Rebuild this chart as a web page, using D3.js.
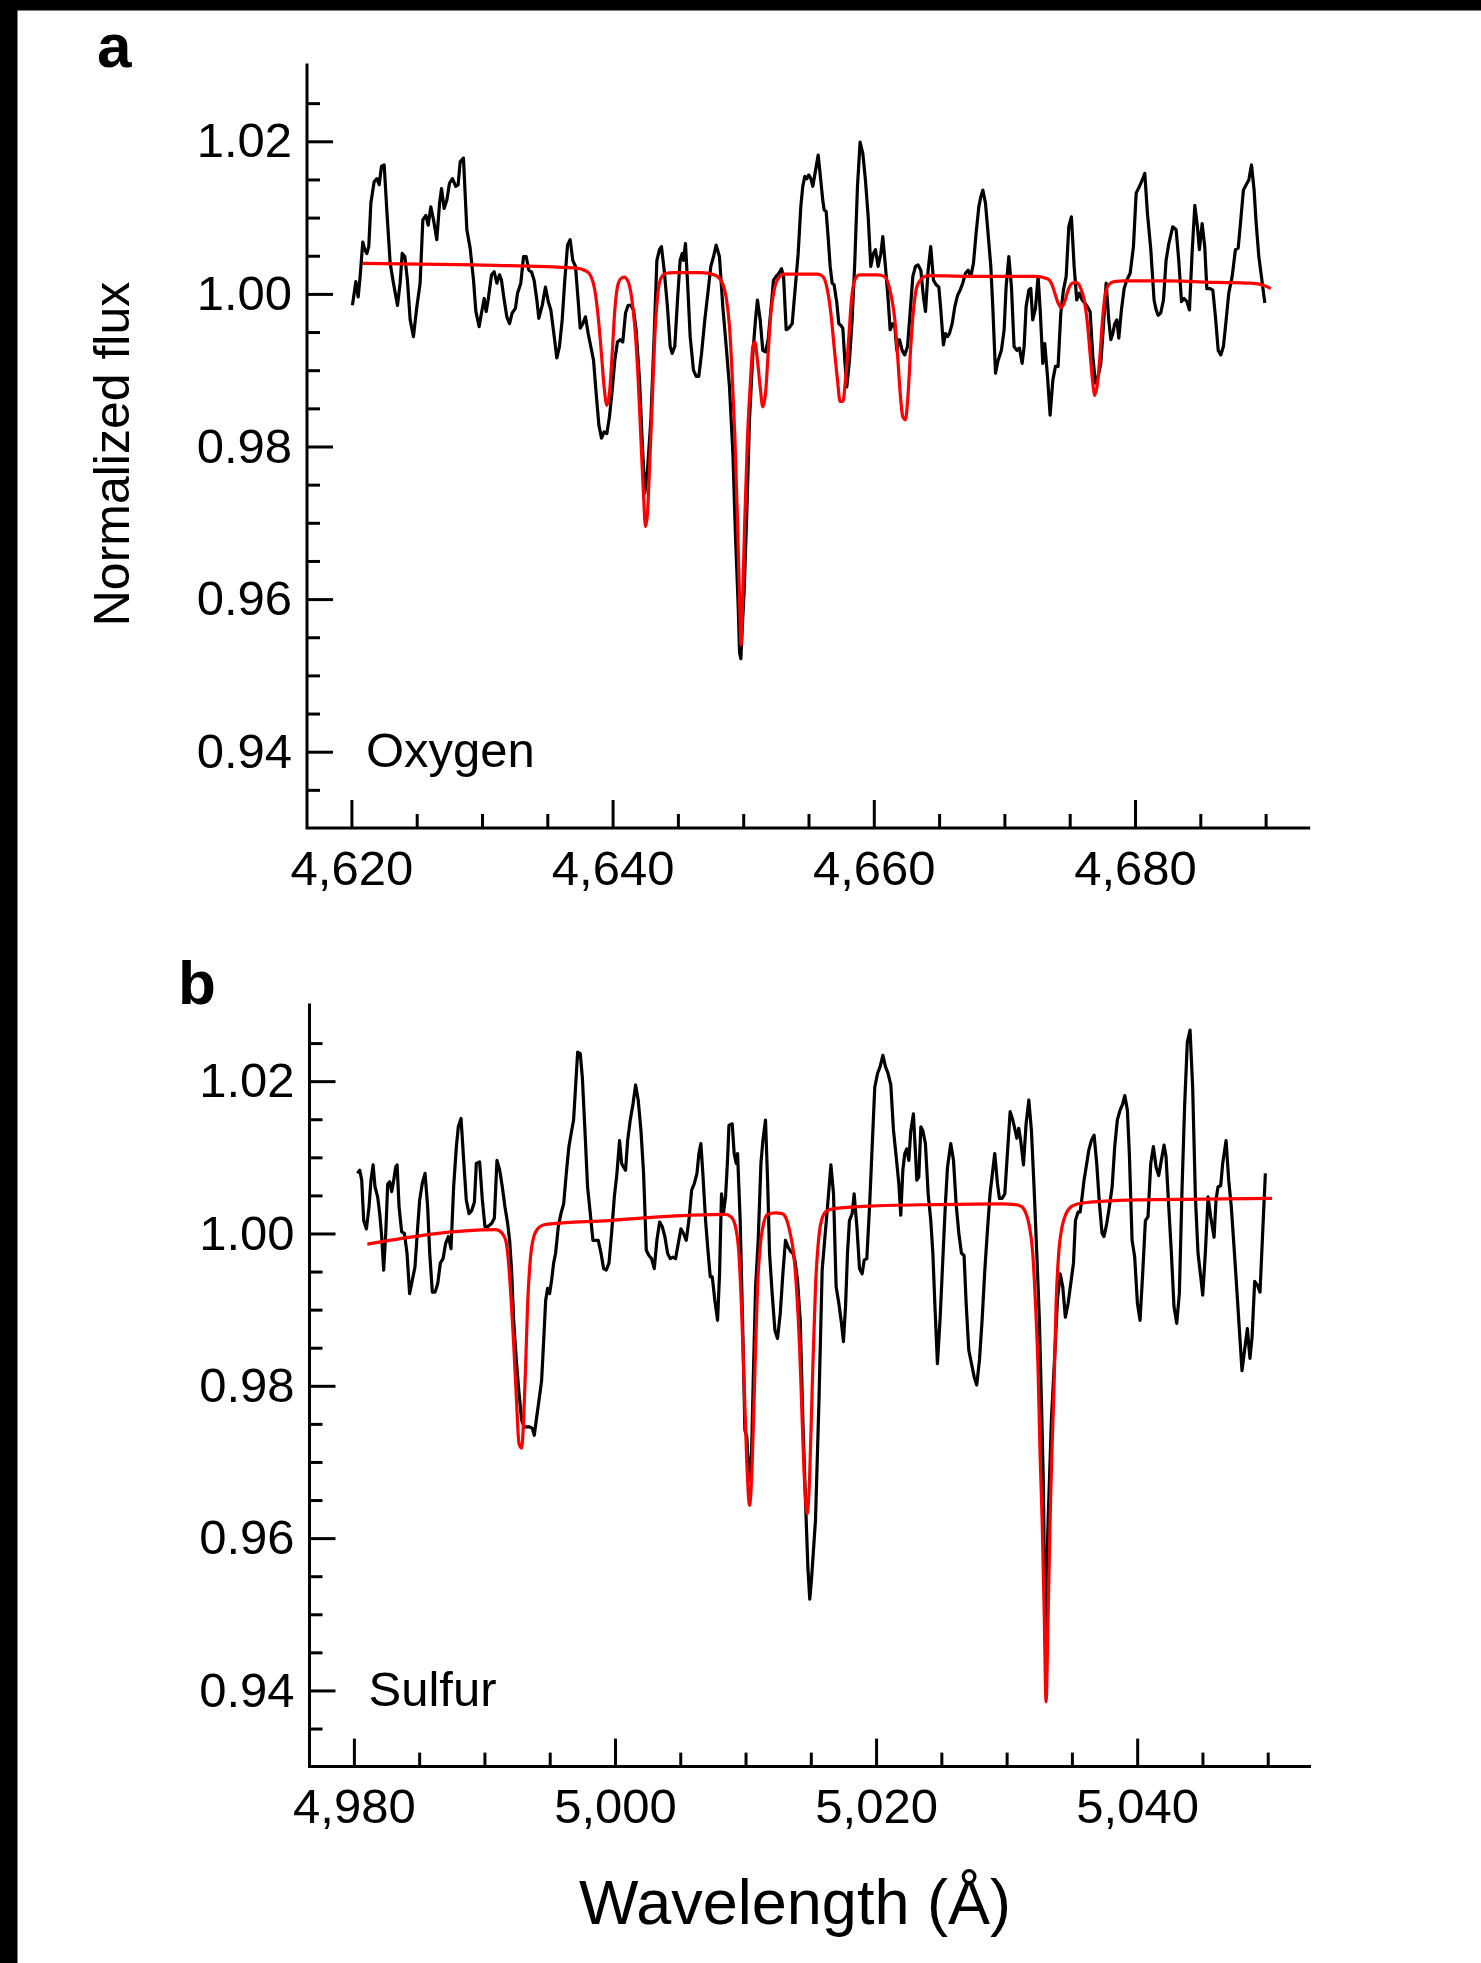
<!DOCTYPE html>
<html>
<head>
<meta charset="utf-8">
<script src="https://cdn.jsdelivr.net/npm/d3@7"></script>
<style>
  html, body { margin: 0; padding: 0; background: #fff; }
  svg { display: block; }
  text { font-family: "Liberation Sans", Arial, Helvetica, sans-serif; fill: #000; }
</style>
</head>
<body>
<svg id="chart" width="1481" height="1963"></svg>
<script>
// ---- Oxygen region: observed spectrum [wavelength (Å), normalized flux]
const oxygenObserved = [
[4620.08,0.9985],[4620.34,1.0016],[4620.52,0.9996],[4620.67,1.0023],[4620.87,1.0068],[4621.03,1.0058],[4621.18,1.0053],[4621.33,1.0062],[4621.49,1.0119],[4621.74,1.0147],[4621.95,1.0151],[4622.13,1.0143],[4622.30,1.0167],[4622.51,1.0169],[4622.71,1.0110],[4622.97,1.0040],[4623.22,1.0014],[4623.53,0.9985],[4623.73,1.0014],[4623.89,1.0053],[4624.09,1.0049],[4624.29,1.0018],[4624.50,0.9966],[4624.75,0.9944],[4625.01,0.9983],[4625.26,1.0014],[4625.47,1.0097],[4625.70,1.0103],[4625.88,1.0090],[4626.08,1.0114],[4626.29,1.0097],[4626.54,1.0071],[4626.75,1.0119],[4626.90,1.0138],[4627.10,1.0112],[4627.31,1.0123],[4627.51,1.0145],[4627.74,1.0151],[4627.99,1.0141],[4628.17,1.0143],[4628.33,1.0173],[4628.58,1.0178],[4628.84,1.0084],[4629.09,1.0060],[4629.35,1.0018],[4629.53,0.9977],[4629.78,0.9957],[4629.96,0.9975],[4630.17,0.9994],[4630.32,0.9977],[4630.47,0.9992],[4630.73,1.0025],[4630.93,1.0029],[4631.14,1.0014],[4631.34,1.0025],[4631.49,1.0018],[4631.70,0.9992],[4631.90,0.9970],[4632.11,0.9961],[4632.31,0.9975],[4632.56,0.9981],[4632.72,1.0001],[4632.97,1.0014],[4633.18,1.0049],[4633.38,1.0049],[4633.59,1.0031],[4633.79,1.0029],[4633.99,1.0018],[4634.20,0.9992],[4634.35,0.9968],[4634.61,0.9985],[4634.86,1.0009],[4635.07,0.9990],[4635.27,0.9979],[4635.53,0.9944],[4635.73,0.9916],[4635.93,0.9931],[4636.14,0.9966],[4636.34,1.0018],[4636.55,1.0064],[4636.75,1.0071],[4636.95,1.0044],[4637.16,1.0036],[4637.36,0.9992],[4637.52,0.9955],[4637.72,0.9961],[4637.92,0.9970],[4638.13,0.9948],[4638.33,0.9931],[4638.54,0.9913],[4638.74,0.9870],[4638.95,0.9828],[4639.15,0.9811],[4639.35,0.9819],[4639.56,0.9817],[4639.76,0.9839],[4639.97,0.9874],[4640.17,0.9913],[4640.37,0.9937],[4640.58,0.9940],[4640.78,0.9937],[4640.99,0.9975],[4641.19,0.9985],[4641.40,0.9985],[4641.60,0.9979],[4641.80,0.9953],[4642.06,0.9887],[4642.26,0.9809],[4642.47,0.9739],[4642.67,0.9769],[4642.93,0.9835],[4643.18,0.9944],[4643.39,1.0044],[4643.59,1.0058],[4643.74,1.0062],[4643.95,1.0031],[4644.20,0.9983],[4644.41,0.9931],[4644.56,0.9922],[4644.76,0.9931],[4644.97,0.9992],[4645.17,1.0044],[4645.33,1.0053],[4645.43,1.0044],[4645.58,1.0066],[4645.73,1.0018],[4645.94,0.9944],[4646.19,0.9900],[4646.40,0.9892],[4646.60,0.9892],[4646.81,0.9922],[4647.06,0.9966],[4647.32,1.0005],[4647.52,1.0036],[4647.73,1.0049],[4647.93,1.0064],[4648.18,1.0049],[4648.44,0.9983],[4648.70,0.9931],[4648.95,0.9878],[4649.21,0.9791],[4649.41,0.9682],[4649.61,0.9594],[4649.72,0.9530],[4649.82,0.9522],[4649.95,0.9570],[4650.07,0.9610],[4650.28,0.9715],[4650.48,0.9835],[4650.74,0.9922],[4650.94,0.9966],[4651.09,0.9992],[4651.30,0.9966],[4651.50,0.9926],[4651.71,0.9924],[4651.91,0.9940],[4652.12,0.9979],[4652.32,1.0018],[4652.52,1.0023],[4652.73,1.0027],[4652.93,1.0033],[4653.09,1.0023],[4653.29,0.9953],[4653.49,0.9955],[4653.75,0.9961],[4653.95,1.0001],[4654.21,1.0053],[4654.41,1.0114],
[4654.56,1.0141],[4654.72,1.0154],[4654.87,1.0151],[4655.02,1.0156],[4655.18,1.0151],[4655.33,1.0141],[4655.48,1.0156],[4655.74,1.0182],[4655.94,1.0149],[4656.09,1.0123],[4656.20,1.0110],[4656.35,1.0108],[4656.50,1.0075],[4656.66,1.0036],[4656.81,1.0014],[4656.96,1.0012],[4657.17,0.9988],[4657.32,0.9961],[4657.47,0.9959],[4657.63,0.9955],[4657.78,0.9913],[4657.93,0.9878],[4658.14,0.9913],[4658.34,0.9966],[4658.54,1.0040],[4658.75,1.0141],[4658.95,1.0199],[4659.16,1.0184],[4659.36,1.0149],[4659.57,1.0101],[4659.77,1.0036],[4659.97,1.0053],[4660.13,1.0058],[4660.33,1.0036],[4660.54,1.0053],[4660.69,1.0075],[4660.89,1.0036],[4661.10,0.9992],[4661.25,0.9953],[4661.45,0.9961],[4661.61,0.9957],[4661.76,0.9926],[4661.97,0.9940],[4662.17,0.9926],[4662.37,0.9920],[4662.58,0.9931],[4662.78,0.9975],[4662.99,1.0023],[4663.19,1.0036],[4663.39,1.0038],[4663.60,1.0031],[4663.80,0.9996],[4663.96,0.9977],[4664.16,1.0031],[4664.36,1.0062],[4664.57,1.0018],[4664.77,1.0012],[4664.98,1.0009],[4665.13,0.9979],[4665.33,0.9933],[4665.49,0.9948],[4665.64,0.9944],[4665.79,0.9948],[4666.00,0.9961],[4666.20,0.9983],[4666.41,0.9998],[4666.61,1.0005],[4666.81,1.0014],[4667.02,1.0027],[4667.22,1.0031],[4667.43,1.0023],[4667.63,1.0040],[4667.83,1.0079],[4668.04,1.0114],[4668.19,1.0127],[4668.35,1.0136],[4668.55,1.0119],[4668.75,1.0079],[4668.96,1.0036],[4669.11,0.9983],[4669.32,0.9896],[4669.52,0.9913],[4669.77,0.9926],[4669.98,0.9953],[4670.13,1.0009],[4670.34,1.0049],[4670.54,1.0009],[4670.74,0.9931],[4670.95,0.9926],[4671.15,0.9929],[4671.36,0.9909],[4671.51,0.9931],[4671.66,0.9983],[4671.87,1.0005],[4672.02,1.0007],[4672.17,0.9966],[4672.38,0.9981],[4672.58,1.0023],[4672.74,0.9979],[4672.94,0.9909],[4673.09,0.9935],[4673.30,0.9892],[4673.50,0.9841],[4673.71,0.9887],[4673.91,0.9905],[4674.11,0.9905],[4674.32,0.9975],[4674.52,1.0005],[4674.73,1.0023],[4674.93,1.0088],[4675.13,1.0101],[4675.34,1.0036],[4675.54,0.9992],[4675.75,1.0001],[4675.95,0.9992],[4676.16,0.9988],[4676.36,0.9983],[4676.56,0.9977],[4676.77,0.9918],[4676.97,0.9883],[4677.18,0.9892],[4677.38,0.9909],[4677.58,0.9957],[4677.79,1.0014],[4677.99,0.9966],[4678.15,0.9940],[4678.30,0.9948],[4678.45,0.9961],[4678.61,0.9966],[4678.76,0.9942],[4678.96,0.9979],[4679.17,1.0007],[4679.37,1.0018],[4679.63,1.0027],[4679.88,1.0062],[4680.09,1.0132],[4680.34,1.0141],[4680.55,1.0149],[4680.75,1.0158],[4680.95,1.0106],[4681.21,1.0058],[4681.46,0.9992],[4681.62,0.9979],[4681.77,0.9972],[4681.97,0.9975],[4682.18,0.9992],[4682.38,1.0044],[4682.59,1.0066],[4682.89,1.0088],[4683.15,1.0084],[4683.35,1.0044],[4683.56,0.9990],[4683.76,0.9994],[4683.97,0.9990],[4684.17,0.9979],[4684.37,1.0053],[4684.58,1.0116],[4684.78,1.0088],[4684.93,1.0058],[4685.14,1.0092],[4685.34,1.0062],[4685.50,1.0007],[4685.75,1.0007],[4685.96,1.0005],[4686.16,0.9970],[4686.37,0.9926],[4686.57,0.9920],[4686.77,0.9931],[4686.98,0.9966],[4687.18,1.0001],[4687.44,1.0023],[4687.69,1.0058],[4687.90,1.0060],[4688.10,1.0097],[4688.30,1.0136],[4688.51,1.0143],[4688.71,1.0149],[4688.92,1.0169],[4689.12,1.0136],[4689.28,1.0092],[4689.48,1.0049],[4689.68,1.0023],[4689.94,0.9988]
];

// ---- Oxygen region: synthetic model spectrum
const oxygenModel = [
[4620.87,1.0040],[4629.40,1.0038],[4637.05,1.0034],[4638.08,1.0029],[4638.59,1.0009],[4638.84,0.9979],[4639.10,0.9931],[4639.35,0.9878],[4639.56,0.9854],[4639.76,0.9870],[4639.97,0.9922],[4640.17,0.9979],[4640.37,1.0009],[4640.63,1.0020],[4640.88,1.0022],[4641.19,1.0016],[4641.45,0.9996],[4641.70,0.9957],[4641.96,0.9887],[4642.16,0.9813],[4642.36,0.9739],[4642.52,0.9695],[4642.67,0.9712],[4642.82,0.9769],[4643.03,0.9857],[4643.23,0.9944],[4643.44,0.9996],[4643.69,1.0020],[4644.07,1.0027],[4644.71,1.0028],[4646.75,1.0028],[4647.77,1.0025],[4648.28,1.0018],[4648.69,0.9996],[4648.95,0.9957],[4649.15,0.9896],[4649.36,0.9813],[4649.56,0.9704],[4649.72,0.9600],[4649.84,0.9540],[4649.96,0.9600],[4650.12,0.9704],[4650.33,0.9813],[4650.53,0.9878],[4650.74,0.9931],[4650.89,0.9937],[4651.09,0.9913],[4651.30,0.9878],[4651.50,0.9852],[4651.71,0.9870],[4651.91,0.9922],[4652.12,0.9975],[4652.37,1.0005],[4652.68,1.0020],[4653.14,1.0026],[4655.69,1.0026],[4656.09,1.0023],[4656.45,1.0005],[4656.71,0.9975],[4656.96,0.9931],[4657.22,0.9887],[4657.42,0.9859],[4657.63,0.9859],[4657.83,0.9887],[4658.09,0.9944],[4658.29,0.9992],[4658.54,1.0018],[4658.90,1.0025],[4660.28,1.0025],[4660.79,1.0023],[4661.10,1.0014],[4661.35,0.9996],[4661.61,0.9966],[4661.81,0.9922],[4662.02,0.9870],[4662.22,0.9839],[4662.42,0.9835],[4662.63,0.9870],[4662.83,0.9931],[4663.04,0.9979],[4663.29,1.0009],[4663.65,1.0020],[4664.11,1.0024],[4667.17,1.0023],[4672.28,1.0023],[4673.30,1.0020],[4673.60,1.0014],[4673.86,1.0001],[4674.11,0.9988],[4674.37,0.9982],[4674.62,0.9990],[4674.88,1.0005],[4675.19,1.0014],[4675.49,1.0015],[4675.80,1.0009],[4676.11,0.9992],[4676.36,0.9961],[4676.56,0.9922],[4676.77,0.9883],[4676.92,0.9867],[4677.13,0.9883],[4677.33,0.9922],[4677.53,0.9970],[4677.74,1.0001],[4677.99,1.0012],[4678.40,1.0016],[4679.17,1.0017],[4682.48,1.0017],[4686.31,1.0015],[4688.87,1.0014],[4689.89,1.0011],[4690.40,1.0007]
];

// ---- Sulfur region: observed spectrum
const sulfurObserved = [
[4980.27,1.0079],[4980.45,1.0083],[4980.60,1.0070],[4980.75,1.0017],[4980.96,1.0006],[4981.16,1.0035],[4981.31,1.0070],[4981.47,1.0090],[4981.62,1.0061],[4981.82,1.0048],[4981.98,1.0026],[4982.13,0.9996],[4982.28,0.9952],[4982.44,1.0000],[4982.59,1.0065],[4982.74,1.0068],[4982.90,1.0055],[4983.05,1.0070],[4983.20,1.0087],[4983.31,1.0090],[4983.46,1.0035],[4983.66,1.0002],[4983.87,1.0000],[4984.07,0.9974],[4984.27,0.9921],[4984.48,0.9939],[4984.68,0.9956],[4984.89,1.0009],[4985.04,1.0044],[4985.24,1.0066],[4985.45,1.0079],[4985.65,1.0035],[4985.81,0.9974],[4986.01,0.9923],[4986.22,0.9923],[4986.42,0.9934],[4986.62,0.9961],[4986.83,0.9967],[4987.03,0.9987],[4987.24,0.9996],[4987.44,0.9980],[4987.64,1.0061],[4987.85,1.0114],[4988.00,1.0140],[4988.21,1.0151],[4988.41,1.0096],[4988.61,1.0044],[4988.82,1.0026],[4989.02,1.0030],[4989.23,1.0041],[4989.38,1.0092],[4989.63,1.0094],[4989.84,1.0044],[4990.04,1.0009],[4990.25,1.0009],[4990.55,1.0013],[4990.76,1.0020],[4990.96,1.0096],[4991.17,1.0083],[4991.37,1.0061],[4991.57,1.0035],[4991.78,1.0013],[4991.93,0.9991],[4992.08,0.9952],[4992.24,0.9886],[4992.44,0.9834],[4992.65,0.9790],[4992.85,0.9755],[4993.05,0.9746],[4993.26,0.9746],[4993.46,0.9746],[4993.67,0.9744],[4993.82,0.9735],[4993.97,0.9755],[4994.18,0.9781],[4994.38,0.9807],[4994.54,0.9860],[4994.69,0.9912],[4994.84,0.9928],[4994.99,0.9921],[4995.15,0.9939],[4995.30,0.9961],[4995.45,0.9974],[4995.66,1.0009],[4995.86,1.0026],[4996.07,1.0039],[4996.27,1.0079],[4996.47,1.0114],[4996.68,1.0135],[4996.83,1.0149],[4996.98,1.0192],[4997.14,1.0238],[4997.34,1.0236],[4997.50,1.0205],[4997.70,1.0135],[4997.90,1.0061],[4998.11,1.0026],[4998.31,0.9991],[4998.52,0.9991],[4998.72,0.9991],[4998.93,0.9974],[4999.13,0.9954],[4999.33,0.9952],[4999.54,0.9961],[4999.74,1.0000],[4999.95,1.0048],[5000.15,1.0079],[5000.35,1.0122],[5000.51,1.0092],[5000.66,1.0087],[5000.81,1.0083],[5000.97,1.0122],[5001.17,1.0149],[5001.38,1.0170],[5001.58,1.0195],[5001.78,1.0175],[5001.99,1.0135],[5002.19,1.0079],[5002.40,0.9978],[5002.60,0.9971],[5002.80,0.9967],[5003.01,0.9954],[5003.21,0.9991],[5003.42,1.0015],[5003.62,1.0009],[5003.82,0.9996],[5004.03,0.9974],[5004.23,0.9967],[5004.44,0.9969],[5004.64,0.9967],[5004.85,0.9987],[5005.05,1.0006],[5005.25,1.0000],[5005.46,0.9991],[5005.66,1.0017],[5005.87,1.0057],[5006.07,1.0065],[5006.28,1.0079],[5006.43,1.0105],[5006.58,1.0118],[5006.73,1.0079],[5006.94,1.0017],[5007.14,0.9974],[5007.30,0.9943],[5007.45,0.9943],[5007.65,0.9912],[5007.86,0.9886],[5008.01,0.9947],[5008.16,1.0052],[5008.32,1.0028],[5008.47,1.0048],[5008.62,1.0096],[5008.73,1.0142],[5008.98,1.0144],[5009.13,1.0105],[5009.29,1.0092],[5009.39,1.0105],[5009.59,1.0017],[5009.80,0.9864],[5009.95,0.9742],[5010.10,0.9733],[5010.26,0.9676],[5010.46,0.9711],[5010.61,0.9821],[5010.77,0.9930],[5010.97,0.9991],[5011.18,1.0092],[5011.33,1.0122],[5011.53,1.0149],[5011.69,1.0070],[5011.84,0.9974],[5012.04,0.9921],[5012.25,0.9873],[5012.45,0.9862],[5012.66,0.9895],[5012.86,0.9947],[5013.06,0.9991],[5013.27,0.9982],[5013.47,0.9976],[5013.63,0.9974],[5013.78,0.9965],[5013.98,0.9939],[5014.19,0.9886],[5014.39,0.9755],[5014.60,0.9646],[5014.78,0.9560],[5014.92,0.9520],[5015.05,0.9545],[5015.36,0.9624],[5015.62,0.9777],[5015.87,0.9952],[5016.08,0.9995],[5016.28,1.0035],[5016.54,1.0090],[5016.74,1.0052],[5016.94,0.9930],[5017.15,0.9908],[5017.35,0.9882],[5017.50,0.9858],[5017.66,0.9904],[5017.81,0.9974],[5017.96,1.0017],[5018.17,1.0026],[5018.32,1.0052],[5018.53,1.0009],[5018.73,0.9954],[5018.93,0.9947],[5019.09,0.9965],[5019.29,0.9967],[5019.50,1.0035],[5019.70,1.0114],[5019.90,1.0192],[5020.11,1.0210],[5020.31,1.0219],[5020.52,1.0234],[5020.72,1.0219],[5020.92,1.0210],[5021.13,1.0195],[5021.33,1.0136],[5021.54,1.0101],[5021.74,1.0066],[5021.89,1.0024],[5022.05,1.0083],[5022.20,1.0105],[5022.35,1.0111],[5022.51,1.0096],[5022.66,1.0135],[5022.86,1.0157],[5023.02,1.0105],[5023.12,1.0070],[5023.27,1.0074],[5023.43,1.0140],[5023.58,1.0135],[5023.78,1.0118],[5023.99,1.0052],[5024.19,1.0017],[5024.35,0.9974],[5024.50,0.9908],[5024.70,0.9829],[5024.91,0.9890],[5025.11,0.9965],[5025.31,1.0039],[5025.47,1.0087],[5025.72,1.0118],[5025.93,1.0096],[5026.13,1.0039],[5026.34,1.0000],[5026.54,0.9974],[5026.74,0.9971],[5026.90,0.9908],[5027.10,0.9847],[5027.31,0.9829],[5027.51,0.9812],[5027.71,0.9801],[5027.92,0.9834],[5028.12,0.9886],[5028.33,0.9952],[5028.53,1.0004],[5028.73,1.0052],[5028.94,1.0083],[5029.09,1.0105],[5029.30,1.0065],[5029.45,1.0046],[5029.65,1.0046],[5029.86,1.0052],[5030.06,1.0105],[5030.27,1.0160],[5030.47,1.0149],[5030.62,1.0138],[5030.78,1.0125],[5030.93,1.0138],[5031.08,1.0122],[5031.29,1.0090],[5031.49,1.0144],[5031.70,1.0175],[5031.90,1.0135],[5032.10,1.0061],[5032.31,0.9974],[5032.51,0.9886],[5032.67,0.9777],[5032.82,0.9667],[5032.94,0.9470],[5033.06,0.9540],[5033.18,0.9624],[5033.43,0.9755],[5033.69,0.9842],[5033.89,0.9912],[5034.10,0.9947],[5034.30,0.9930],[5034.50,0.9890],[5034.71,0.9908],[5034.91,0.9934],[5035.12,0.9961],[5035.27,1.0017],[5035.47,1.0028],[5035.63,1.0028],[5035.78,1.0048],[5035.93,1.0070],[5036.09,1.0087],[5036.29,1.0109],[5036.49,1.0122],[5036.70,1.0129],[5036.90,1.0092],[5037.11,1.0039],[5037.31,1.0000],[5037.46,0.9996],[5037.67,1.0013],[5037.87,1.0035],[5038.08,1.0061],[5038.28,1.0114],[5038.48,1.0149],[5038.69,1.0162],[5038.89,1.0170],[5039.05,1.0181],[5039.25,1.0162],[5039.40,1.0105],[5039.61,0.9991],[5039.81,0.9969],[5040.02,0.9908],[5040.22,0.9886],[5040.42,0.9947],[5040.63,1.0017],[5040.83,1.0022],[5041.04,1.0092],[5041.24,1.0114],[5041.45,1.0087],[5041.65,1.0076],[5041.85,1.0096],[5042.06,1.0116],[5042.21,1.0101],[5042.42,1.0035],[5042.62,0.9974],[5042.82,0.9904],[5043.03,0.9882],[5043.23,0.9921],[5043.44,1.0061],[5043.64,1.0170],[5043.84,1.0251],[5044.05,1.0267],[5044.25,1.0192],[5044.46,1.0048],[5044.66,0.9974],[5044.87,0.9943],[5045.02,0.9919],[5045.22,0.9974],[5045.43,1.0048],[5045.63,1.0022],[5045.89,0.9995],[5046.04,1.0044],[5046.19,1.0061],[5046.40,1.0063],[5046.55,1.0092],[5046.81,1.0122],[5047.01,1.0070],[5047.21,1.0035],[5047.42,0.9982],[5047.62,0.9930],[5047.83,0.9873],[5048.03,0.9820],[5048.23,0.9847],[5048.44,0.9875],[5048.64,0.9836],[5048.80,0.9864],[5049.00,0.9937],[5049.21,0.9932],[5049.41,0.9923],[5049.61,1.0000],[5049.82,1.0079]
];

// ---- Sulfur region: synthetic model spectrum
const sulfurModel = [
[4981.03,0.9986],[4990.86,1.0005],[4991.11,1.0004],[4991.37,1.0000],[4991.63,0.9991],[4991.83,0.9965],[4992.03,0.9917],[4992.24,0.9855],[4992.44,0.9786],[4992.65,0.9724],[4992.85,0.9718],[4993.00,0.9755],[4993.16,0.9829],[4993.31,0.9908],[4993.51,0.9965],[4993.77,0.9995],[4994.18,1.0008],[4994.69,1.0012],[4999.54,1.0017],[5004.64,1.0023],[5008.47,1.0025],[5008.88,1.0022],[5009.23,1.0009],[5009.49,0.9974],[5009.70,0.9899],[5009.90,0.9799],[5010.10,0.9698],[5010.31,0.9643],[5010.51,0.9698],[5010.72,0.9821],[5010.92,0.9930],[5011.12,0.9982],[5011.38,1.0013],[5011.69,1.0025],[5012.30,1.0027],[5012.81,1.0026],[5013.17,1.0017],[5013.42,1.0000],[5013.68,0.9974],[5013.93,0.9921],[5014.14,0.9851],[5014.34,0.9755],[5014.54,0.9667],[5014.72,0.9632],[5014.91,0.9680],[5015.11,0.9799],[5015.36,0.9930],[5015.62,0.9996],[5015.87,1.0020],[5016.25,1.0030],[5016.89,1.0033],[5019.44,1.0036],[5024.55,1.0038],[5029.65,1.0039],[5030.67,1.0038],[5031.18,1.0035],[5031.49,1.0026],[5031.75,1.0009],[5032.00,0.9974],[5032.21,0.9908],[5032.41,0.9821],[5032.56,0.9711],[5032.72,0.9624],[5032.88,0.9500],[5033.02,0.9385],[5033.18,0.9500],[5033.35,0.9640],[5033.50,0.9730],[5033.63,0.9799],[5033.79,0.9908],[5033.99,0.9974],[5034.25,1.0009],[5034.55,1.0026],[5035.01,1.0036],[5035.78,1.0040],[5039.86,1.0044],[5044.97,1.0045],[5050.33,1.0046]
];

// ---- Axis ticks
const fluxMajorTicks = [0.94, 0.96, 0.98, 1.00, 1.02];
const fluxMinorTicks = [0.935, 0.945, 0.95, 0.955, 0.965, 0.97, 0.975, 0.985, 0.99, 0.995, 1.005, 1.01, 1.015, 1.025];
const oxygenMajorTicks = [4620, 4640, 4660, 4680];
const oxygenMinorTicks = [4625, 4630, 4635, 4645, 4650, 4655, 4665, 4670, 4675, 4685, 4690];
const sulfurMajorTicks = [4980, 5000, 5020, 5040];
const sulfurMinorTicks = [4985, 4990, 4995, 5005, 5010, 5015, 5025, 5030, 5035, 5045, 5050];

const FONT = '"Liberation Sans", Arial, Helvetica, sans-serif';
const svg = d3.select('#chart');

svg.append('rect').attr('width', 1481).attr('height', 1963).attr('fill', '#fff');
// black frame edges
svg.append('rect').attr('x', 0).attr('y', 0).attr('width', 1481).attr('height', 10.5).attr('fill', '#000');
svg.append('rect').attr('x', 0).attr('y', 0).attr('width', 17.5).attr('height', 1963).attr('fill', '#000');

const panels = [
  { letter: 'a', letterX: 97, letterY: 67, left: 307, right: 1308.7, top: 65, bottom: 828,
    domain: [4616.6, 4693.3], majors: oxygenMajorTicks, minors: oxygenMinorTicks,
    observed: oxygenObserved, model: oxygenModel, name: 'Oxygen' },
  { letter: 'b', letterX: 178, letterY: 1004, left: 309.5, right: 1309.5, top: 1005, bottom: 1766.6,
    domain: [4976.6, 5053.2], majors: sulfurMajorTicks, minors: sulfurMinorTicks,
    observed: sulfurObserved, model: sulfurModel, name: 'Sulfur' }
];

const AXIS_W = 3;
const LINE_W = 3.2;

function styleAxis(g) {
  g.select('.domain').remove();
  g.selectAll('line').attr('stroke', '#000').attr('stroke-width', AXIS_W);
  g.selectAll('text').attr('font-family', FONT).attr('font-size', 49).attr('fill', '#000');
}

panels.forEach(p => {
  const x = d3.scaleLinear().domain(p.domain).range([p.left, p.right]);
  const y = d3.scaleLinear().domain([0.93, 1.03]).range([p.bottom, p.top]);

  // y axis: ticks point inward, labels outside
  svg.append('g').attr('transform', `translate(${p.left},0)`)
    .call(d3.axisRight(y).tickValues(fluxMinorTicks).tickSize(13).tickFormat(''))
    .call(styleAxis);
  svg.append('g').attr('transform', `translate(${p.left},0)`)
    .call(d3.axisRight(y).tickValues(fluxMajorTicks).tickSize(26).tickFormat(''))
    .call(styleAxis);
  svg.append('g').attr('transform', `translate(${p.left},0)`)
    .call(d3.axisLeft(y).tickValues(fluxMajorTicks).tickSize(0).tickPadding(15).tickFormat(d3.format('.2f')))
    .call(styleAxis);

  // x axis
  svg.append('g').attr('transform', `translate(0,${p.bottom})`)
    .call(d3.axisTop(x).tickValues(p.minors).tickSize(14).tickFormat(''))
    .call(styleAxis);
  svg.append('g').attr('transform', `translate(0,${p.bottom})`)
    .call(d3.axisTop(x).tickValues(p.majors).tickSize(28).tickFormat(''))
    .call(styleAxis);
  svg.append('g').attr('transform', `translate(0,${p.bottom})`)
    .call(d3.axisBottom(x).tickValues(p.majors).tickSize(0).tickPadding(22).tickFormat(d3.format(',')))
    .call(styleAxis);

  // axis frame lines (left and bottom)
  svg.append('path')
    .attr('d', `M${p.left},${p.top}V${p.bottom}H${p.right}`)
    .attr('fill', 'none').attr('stroke', '#000').attr('stroke-width', AXIS_W)
    .attr('stroke-linejoin', 'miter').attr('stroke-linecap', 'square');

  // observed spectrum
  svg.append('path')
    .datum(p.observed)
    .attr('d', d3.line().x(d => x(d[0])).y(d => y(d[1])))
    .attr('fill', 'none').attr('stroke', '#000').attr('stroke-width', LINE_W)
    .attr('stroke-linejoin', 'round');

  // model spectrum
  svg.append('path')
    .datum(p.model)
    .attr('d', d3.line().curve(d3.curveMonotoneX).x(d => x(d[0])).y(d => y(d[1])))
    .attr('fill', 'none').attr('stroke', '#ff0000').attr('stroke-width', LINE_W)
    .attr('stroke-linejoin', 'round');

  // element name
  svg.append('text').attr('x', p.left + 59).attr('y', y(0.94) + 15.5)
    .attr('font-size', 49).text(p.name);

  // panel letter
  svg.append('text').attr('x', p.letterX).attr('y', p.letterY)
    .attr('font-size', 62).attr('font-weight', 'bold').text(p.letter);
});

// shared axis titles
svg.append('text')
  .attr('transform', 'translate(129,454) rotate(-90)')
  .attr('text-anchor', 'middle').attr('font-size', 50)
  .text('Normalized flux');

svg.append('text')
  .attr('x', 795).attr('y', 1924)
  .attr('text-anchor', 'middle').attr('font-size', 63)
  .text('Wavelength (Å)');
</script>
</body>
</html>
